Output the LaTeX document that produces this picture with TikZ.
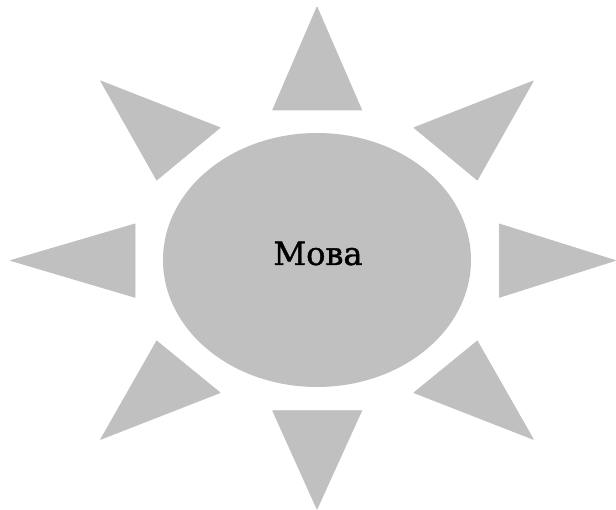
\documentclass[tikz,border=0pt]{standalone}
\usepackage{fontspec}
\newfontfamily\movafont{DejaVu Serif}[FakeBold=1.3]
\definecolor{sungray}{RGB}{192,192,192}

\begin{document}
\begin{tikzpicture}[x=1pt,y=-1pt,
        ray/.style={fill=sungray,draw=sungray,line width=0.8pt,line join=round}]
        \useasboundingbox (0,0) rectangle (616,510);
        % centre
        \fill[sungray] (317,260) ellipse [x radius=154, y radius=127];
        \node[font=\movafont\fontsize{32}{38}\selectfont] (mova) at (318,253.5) {Мова};
        % rays
        \filldraw[ray] (317,7) -- (361.7,110) -- (272.7,110) -- cycle;
        \filldraw[ray] (317,509) -- (361.7,410.7) -- (272.7,410.7) -- cycle;
        \filldraw[ray] (10.7,260.5) -- (135,224) -- (135,297.3) -- cycle;
        \filldraw[ray] (615.3,260.5) -- (499.3,224) -- (499.3,297.3) -- cycle;
        \filldraw[ray] (100.7,81) -- (220,127.7) -- (156.7,180) -- cycle;
        \filldraw[ray] (533.3,81) -- (414,127.7) -- (477.3,180) -- cycle;
        \filldraw[ray] (100.7,439.3) -- (156.7,341) -- (220,392.7) -- cycle;
        \filldraw[ray] (533.3,439.3) -- (477.3,341) -- (414,392.7) -- cycle;
    \end{tikzpicture}
\end{document}
